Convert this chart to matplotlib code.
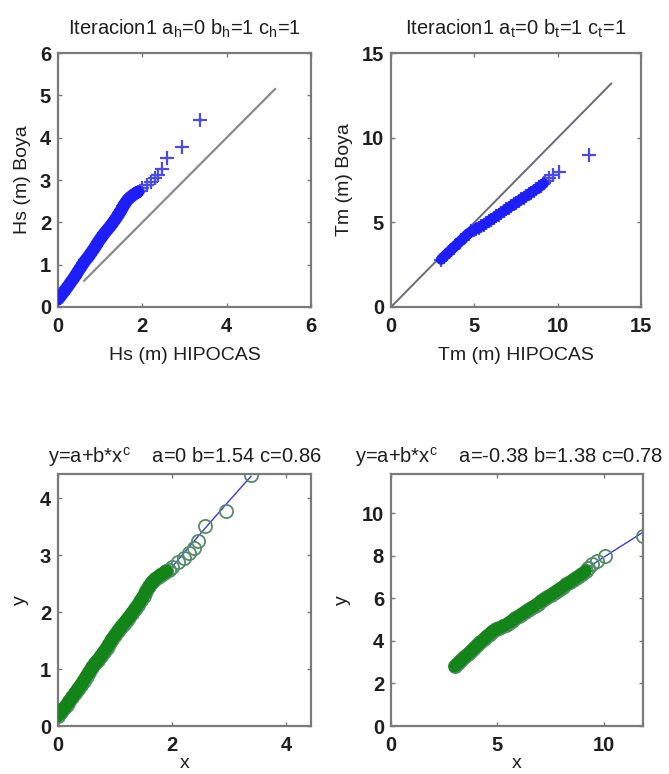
import numpy as np
import matplotlib
matplotlib.use("Agg")
import matplotlib.pyplot as plt

plt.rcParams['font.family'] = ['Liberation Sans', 'DejaVu Sans']
plt.rcParams['mathtext.fontset'] = 'custom'
plt.rcParams['mathtext.rm'] = 'Liberation Sans'
plt.rcParams['mathtext.it'] = 'Liberation Sans'

# Hs quantiles: HIPOCAS (x) vs buoy (y)
hs_hip = [0.00, 0.05, 0.10, 0.15, 0.20, 0.25, 0.30, 0.35, 0.40, 0.45,
          0.50, 0.55, 0.60, 0.65, 0.70, 0.75, 0.80, 0.85, 0.90, 0.95,
          1.00, 1.05, 1.10, 1.15, 1.20, 1.25, 1.30, 1.35, 1.40, 1.45,
          1.50, 1.55, 1.60, 1.65, 1.70, 1.75, 1.80, 1.85, 1.90, 1.95,
          2.00, 2.10, 2.20, 2.30, 2.38, 2.46, 2.58, 2.95, 3.38]
hs_boya = [0.18, 0.24, 0.31, 0.37, 0.44, 0.51, 0.58, 0.65, 0.72, 0.80,
           0.88, 0.95, 1.03, 1.10, 1.16, 1.23, 1.30, 1.37, 1.45, 1.53,
           1.60, 1.67, 1.74, 1.80, 1.86, 1.92, 1.99, 2.06, 2.13, 2.21,
           2.29, 2.38, 2.46, 2.53, 2.58, 2.62, 2.66, 2.69, 2.72, 2.75,
           2.80, 2.88, 2.95, 3.05, 3.13, 3.25, 3.52, 3.78, 4.42]
hs_dense = 39  # first points overlap into a solid band

# Tm quantiles: HIPOCAS (x) vs buoy (y)
tm_hip = [3.00, 3.15, 3.30, 3.45, 3.60, 3.75, 3.90, 4.05, 4.20, 4.35,
          4.50, 4.65, 4.80, 4.95, 5.10, 5.25, 5.40, 5.55, 5.70, 5.85,
          6.00, 6.15, 6.30, 6.45, 6.60, 6.75, 6.90, 7.05, 7.20, 7.35,
          7.50, 7.65, 7.80, 7.95, 8.10, 8.25, 8.40, 8.55, 8.70, 8.85,
          9.00, 9.15, 9.25, 9.45, 9.70, 10.05, 11.85]
tm_boya = [2.80, 2.95, 3.09, 3.23, 3.37, 3.51, 3.65, 3.79, 3.93, 4.07,
           4.21, 4.34, 4.46, 4.55, 4.62, 4.69, 4.77, 4.86, 4.96, 5.06,
           5.16, 5.26, 5.36, 5.46, 5.56, 5.66, 5.76, 5.86, 5.96, 6.06,
           6.16, 6.26, 6.36, 6.46, 6.56, 6.66, 6.76, 6.86, 6.96, 7.06,
           7.17, 7.30, 7.42, 7.62, 7.78, 7.98, 8.95]
tm_dense = 42

# reference lines (y = x) drawn in the top panels
hs_ref = [0.62, 5.15]
tm_ref = [0.0, 13.2]

# fitted parameters y = a + b*x^c
hs_fit = (0.0, 1.54, 0.86)
tm_fit = (-0.38, 1.38, 0.78)

FRAME = '#7a7a7a'
CROSS = '#4a4aea'
BAND_B = '#1e1ef8'
CIRC = '#558c68'
BAND_G = '#138518'
TXT = '#1e1e1e'


def style(ax, lim, xticks, yticks):
	ax.set_xlim(0, lim)
	ax.set_ylim(0, lim)
	ax.set_xticks(xticks)
	ax.set_yticks(yticks)
	for s in ax.spines.values():
		s.set_color(FRAME)
		s.set_linewidth(1.6)
	ax.tick_params(direction='in', top=True, right=True, length=3, width=1,
		color=FRAME, labelsize=14.5, labelcolor=TXT)
	ax.tick_params(axis='x', pad=7)
	ax.tick_params(axis='y', pad=5)
	for lab in ax.get_xticklabels() + ax.get_yticklabels():
		lab.set_fontweight('bold')


def crosses(ax, x, y, n, lw):
	ax.plot(x, y, ls='none', marker='+', ms=9.5, mew=1.6, color=CROSS, zorder=2)
	ax.plot(x[:n], y[:n], color=BAND_B, lw=lw, solid_capstyle='round', zorder=3)


def circles(ax, x, y, n, fit, lw):
	a, b, c = fit
	xf = np.array(x)
	ax.plot(xf, a + b * xf ** c, color='#3a3ae0', lw=1.0, zorder=1)
	ax.plot(x, y, ls='none', marker='o', ms=9.5, mfc='none', mew=1.3, color=CIRC, zorder=2)
	ax.plot(x[:n], y[:n], color=BAND_G, lw=lw, solid_capstyle='round', zorder=3)


fig = plt.figure(figsize=(6.69, 7.74), dpi=100)

ax1 = fig.add_axes([0.0867, 0.6034, 0.378, 0.328])
ax1.plot(hs_ref, hs_ref, color='#8a8a8a', lw=1.6, zorder=1)
crosses(ax1, hs_hip, hs_boya, hs_dense, 9)
style(ax1, 6, [0, 2, 4, 6], [0, 1, 2, 3, 4, 5, 6])
ax1.set_title('Iteracion1 a$_h$=0 b$_h$=1 c$_h$=1', fontsize=14.5, color=TXT, pad=13)
ax1.set_xlabel('Hs (m) HIPOCAS', fontsize=14, color=TXT, labelpad=8)
ax1.set_ylabel('Hs (m) Boya', fontsize=14, color=TXT, labelpad=6)

ax2 = fig.add_axes([0.5845, 0.6034, 0.374, 0.328])
ax2.plot(tm_ref, tm_ref, color='#6a6a78', lw=1.4, zorder=1)
crosses(ax2, tm_hip, tm_boya, tm_dense, 7.5)
style(ax2, 15, [0, 5, 10, 15], [0, 5, 10, 15])
ax2.set_title('Iteracion1 a$_t$=0 b$_t$=1 c$_t$=1', fontsize=14.5, color=TXT, pad=13)
ax2.set_xlabel('Tm (m) HIPOCAS', fontsize=14, color=TXT, labelpad=8)
ax2.set_ylabel('Tm (m) Boya', fontsize=14, color=TXT, labelpad=6)

ax3 = fig.add_axes([0.0867, 0.062, 0.378, 0.3256])
circles(ax3, hs_hip, hs_boya, hs_dense, hs_fit, 9.5)
style(ax3, 4.43, [0, 2, 4], [0, 1, 2, 3, 4])
ax3.set_title('y=a+b*x$^c$    a=0 b=1.54 c=0.86', fontsize=14.5, color=TXT, pad=8)
ax3.set_xlabel('x', fontsize=14, color=TXT, labelpad=0)
ax3.set_ylabel('y', fontsize=14, color=TXT, labelpad=8)

ax4 = fig.add_axes([0.5845, 0.062, 0.3767, 0.3256])
circles(ax4, tm_hip, tm_boya, tm_dense, tm_fit, 9)
style(ax4, 11.85, [0, 5, 10], [0, 2, 4, 6, 8, 10])
ax4.set_title('y=a+b*x$^c$    a=-0.38 b=1.38 c=0.78', fontsize=14.5, color=TXT,
	pad=8, x=0.47)
ax4.set_xlabel('x', fontsize=14, color=TXT, labelpad=0)
ax4.set_ylabel('y', fontsize=14, color=TXT, labelpad=8)

fig.savefig('out.png', dpi=100)
